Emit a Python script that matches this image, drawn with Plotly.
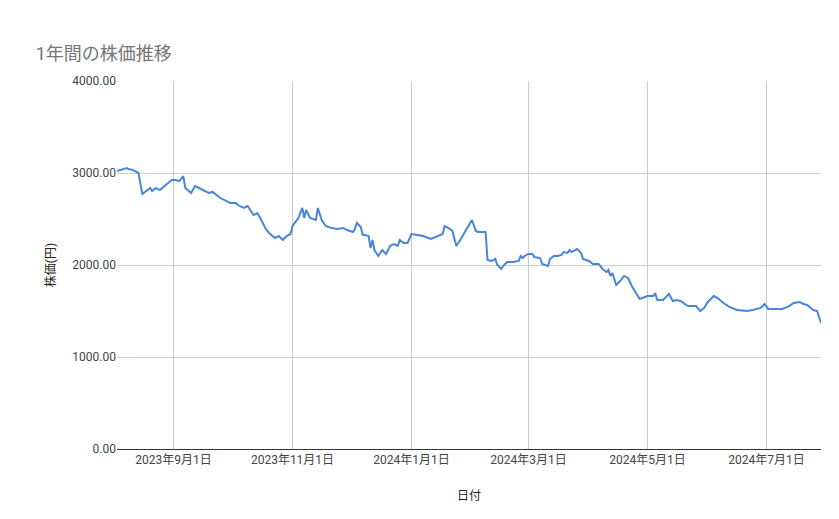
import plotly.graph_objects as go
import pandas as pd

start_date = "2023-08-03"
day_offsets = [0,2,5,6,8,11,12,13,15,17,18,20,22,24,26,28,30,32,34,35,38,40,42,44,47,49,51,53,56,58,61,62,65,67,70,72,74,76,78,81,83,85,87,89,90,93,95,96,97,99,102,103,105,107,110,113,116,118,121,122,123,125,126,127,129,130,131,132,134,136,138,140,142,144,145,147,149,151,154,157,161,165,167,168,170,172,174,176,178,180,182,184,185,187,189,190,192,194,195,197,198,200,203,206,207,208,209,211,213,214,217,218,221,222,224,226,228,229,231,232,233,236,238,239,241,242,244,247,249,251,252,253,254,256,258,260,262,264,268,272,275,276,277,280,283,285,287,289,292,293,297,299,301,303,306,308,311,314,318,323,326,330,332,334,337,341,344,347,350,352,354,357,359,361]
prices = [3022,3033,3054,3043,3033,3000,2891,2772,2804,2837,2804,2837,2815,2848,2891,2924,2924,2913,2967,2837,2783,2859,2837,2815,2783,2794,2761,2728,2696,2674,2674,2652,2620,2641,2543,2565,2489,2402,2348,2294,2315,2272,2315,2337,2424,2511,2620,2511,2598,2511,2489,2620,2489,2424,2402,2391,2402,2380,2359,2391,2457,2413,2326,2326,2315,2185,2272,2163,2098,2163,2120,2207,2228,2207,2272,2239,2239,2337,2326,2315,2283,2315,2337,2424,2402,2370,2207,2272,2348,2424,2489,2370,2359,2359,2359,2054,2044,2065,2000,1957,1989,2033,2033,2044,2098,2076,2098,2120,2120,2087,2076,2011,1989,2065,2098,2098,2109,2141,2131,2163,2141,2174,2131,2065,2054,2044,2011,2011,1957,1924,1946,1881,1913,1783,1826,1881,1859,1772,1630,1663,1663,1696,1620,1620,1685,1609,1620,1609,1565,1554,1554,1500,1533,1598,1663,1641,1587,1544,1511,1500,1511,1533,1576,1522,1522,1522,1544,1587,1598,1576,1565,1511,1500,1370]

dates = pd.Timestamp(start_date) + pd.to_timedelta(day_offsets, unit="D")

fig = go.Figure(go.Scatter(x=dates, y=prices, mode="lines",
                           line=dict(color="#4a86d8", width=2), hoverinfo="skip"))
font = "Roboto, 'Noto Sans CJK JP', sans-serif"
fig.update_layout(
    width=839, height=519, paper_bgcolor="white", plot_bgcolor="white",
    margin=dict(l=109, r=26, t=73, b=78, autoexpand=False),
    font=dict(family=font, size=12, color="#222"),
    title=dict(text="1年間の株価推移", x=0.033, y=0.925, xanchor="left",
               font=dict(size=18, color="#757575", family=font)),
    showlegend=False,
)
fig.update_xaxes(range=[dates[0], dates[-1]], tickformat="%Y年%-m月%-d日",
                 tick0="2023-09-01", dtick="M2", showgrid=True, gridcolor="#cccccc",
                 linecolor="#333", showline=True, ticks="", automargin=False,
                 title=dict(text="日付", standoff=25, font=dict(size=12)),
                 tickfont=dict(size=12, color="#444"))
fig.update_yaxes(range=[0, 4000], dtick=1000, tickformat=".2f", showgrid=True,
                 gridcolor="#cccccc", zeroline=False, ticks="", automargin=False,
                 title=dict(text="株価(円)", standoff=14, font=dict(size=12)),
                 tickfont=dict(size=12, color="#444"))
fig.write_html("out.html")
